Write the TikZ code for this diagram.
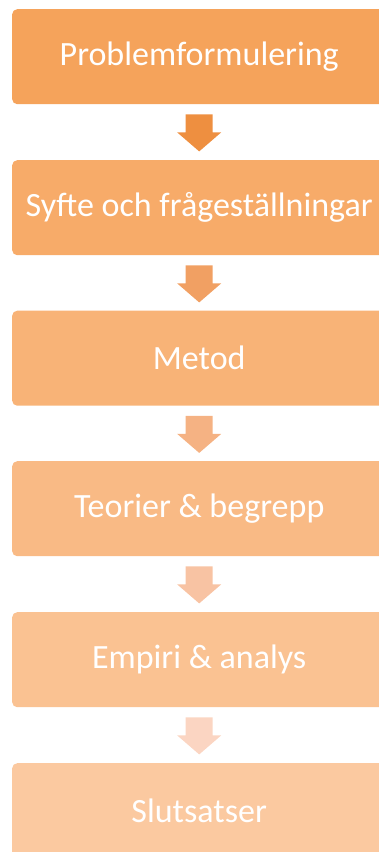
\documentclass[tikz,border=0pt]{standalone}
\usepackage{fontspec}
\setmainfont{Carlito}
\usetikzlibrary{calc}
\definecolor{bA}{HTML}{F5A35B}
\definecolor{bB}{HTML}{F7AB69}
\definecolor{bC}{HTML}{F8B377}
\definecolor{bD}{HTML}{F9BA85}
\definecolor{bE}{HTML}{FAC292}
\definecolor{bF}{HTML}{FBC9A0}
\definecolor{aA}{HTML}{EE8F40}
\definecolor{aB}{HTML}{F1A063}
\definecolor{aC}{HTML}{F5B283}
\definecolor{aD}{HTML}{F8C3A3}
\definecolor{aE}{HTML}{FBD5C2}
\tikzset{
  stepbox/.style={rectangle, rounded corners=5pt, minimum width=374pt, minimum height=95pt,
    inner sep=0pt, text=white, font=\fontsize{34}{40}\selectfont, anchor=north west},
}
\newcommand{\blockarrow}[2]{%
  \fill[#2] ($(#1.south)+(-13.5pt,-10pt)$) -- ($(#1.south)+(13.5pt,-10pt)$)
    -- ($(#1.south)+(13.5pt,-28pt)$) -- ($(#1.south)+(22pt,-28pt)$)
    -- ($(#1.south)+(0pt,-47pt)$) -- ($(#1.south)+(-22pt,-28pt)$)
    -- ($(#1.south)+(-13.5pt,-28pt)$) -- cycle;}
\begin{document}
\begin{tikzpicture}[x=1pt,y=-1pt]
\useasboundingbox (0,0) rectangle (379,852);
\clip (0,0) rectangle (379,852);
\node[stepbox, fill=bA] (b1) at (12,9) {Problemformulering};
\node[stepbox, fill=bB] (b2) at (12,160) {Syfte och frågeställningar};
\node[stepbox, fill=bC] (b3) at (12,310.5) {Metod};
\node[stepbox, fill=bD] (b4) at (12,461) {Teorier \& begrepp};
\node[stepbox, fill=bE] (b5) at (12,612) {Empiri \& analys};
\node[stepbox, fill=bF] (b6) at (12,763) {Slutsatser};
\blockarrow{b1}{aA}
\blockarrow{b2}{aB}
\blockarrow{b3}{aC}
\blockarrow{b4}{aD}
\blockarrow{b5}{aE}
\end{tikzpicture}
\end{document}
